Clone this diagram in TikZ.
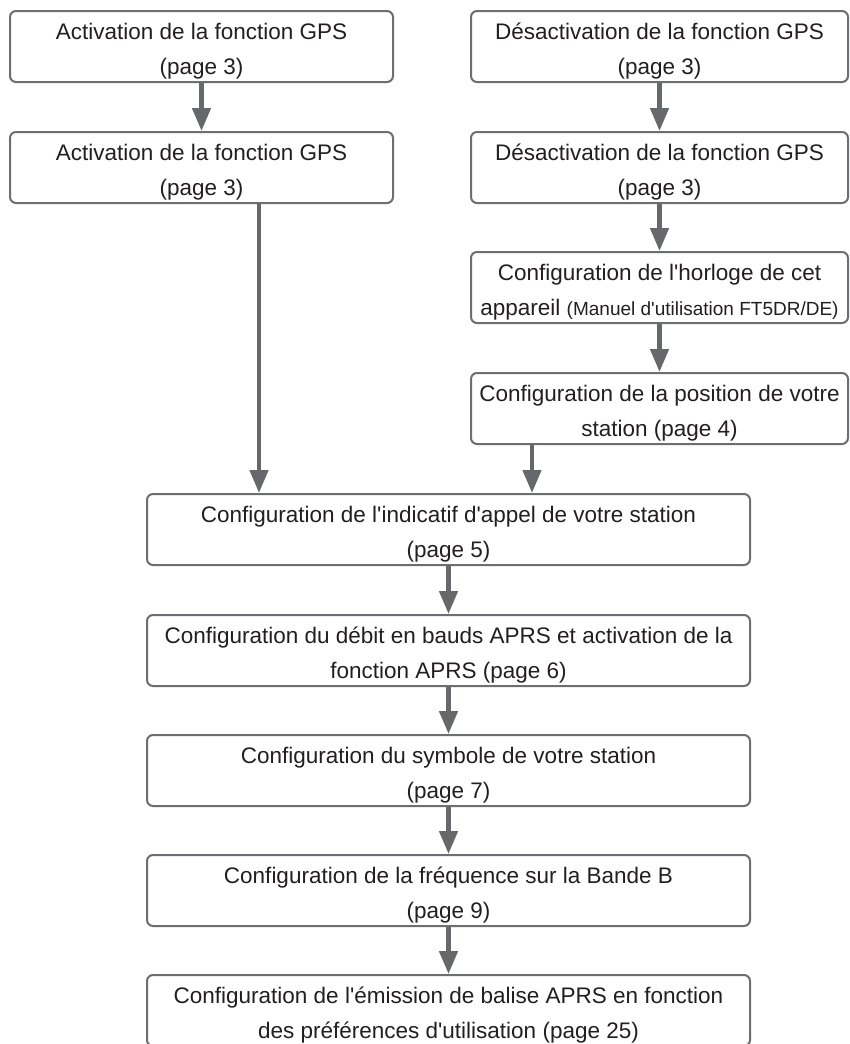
\documentclass[tikz,border=0pt]{standalone}
\usepackage{fontspec}
\setmainfont{Liberation Sans}
\usepackage{tikz}
\usetikzlibrary{positioning,arrows.meta}

\definecolor{framegray}{HTML}{6D6E71}
\definecolor{arrowgray}{HTML}{67686C}
\definecolor{textdark}{HTML}{231F20}
\newcommand\aps{\textquotesingle}

\tikzset{
  stepbox/.style={draw=framegray, line width=2pt, rounded corners=6pt,
    fill=white, text=textdark, align=center, inner sep=0pt,
    minimum height=71pt, font=\fontsize{22.5}{35}\selectfont,
    text height=59.7pt, text depth=4.7pt},
  topbox/.style={stepbox, minimum width=383pt},
  sidebox/.style={stepbox, minimum width=377pt},
  widebox/.style={stepbox, minimum width=603pt},
  flow/.style={draw=arrowgray, line width=4.5pt,
    -{Triangle[length=23pt,width=18pt]}}
}

\begin{document}
\begin{tikzpicture}[x=1pt,y=-1pt]
  \useasboundingbox (0,0) rectangle (849,1044);
  \clip (0,0) rectangle (849,1044);

  % left column
  \node[topbox]  (act1) at (201.5,46.5)        {Activation de la fonction GPS\\(page 3)};
  \node[topbox]  (act2) [below=48pt of act1]   {Activation de la fonction GPS\\(page 3)};

  % right column
  \node[sidebox] (des1) at (659.5,46.5)        {D\'esactivation de la fonction GPS\\(page 3)};
  \node[sidebox] (des2) [below=48pt of des1]   {D\'esactivation de la fonction GPS\\(page 3)};
  \node[sidebox] (horl) [below=47pt of des2]   {Configuration de l\aps horloge de cet\\appareil {\fontsize{19}{35}\selectfont(Manuel d\aps utilisation FT5DR/DE)}};
  \node[sidebox] (posn) [below=48pt of horl]   {Configuration de la position de votre\\station (page 4)};

  % common chain
  \node[widebox] (ind)  at (448.5,529.5)       {Configuration de l\aps indicatif d\aps appel de votre station\\(page 5)};
  \node[widebox] (aprs) [below=48pt of ind]    {Configuration du d\'ebit en bauds APRS et activation de la\\fonction APRS (page 6)};
  \node[widebox] (symb) [below=47pt of aprs]   {Configuration du symbole de votre station\\(page 7)};
  \node[widebox] (freq) [below=47pt of symb]   {Configuration de la fr\'equence sur la Bande B\\(page 9)};
  \node[widebox] (emis) [below=47pt of freq]   {Configuration de l\aps\'emission de balise APRS en fonction\\des pr\'ef\'erences d\aps utilisation (page 25)};

  \coordinate (leftdrop)  at ([xshift=57.5pt]act2.south);
  \coordinate (rightdrop) at ([xshift=-127.5pt]posn.south);

  \draw[flow] (act1) -- (act2);
  \draw[flow] (des1) -- (des2);
  \draw[flow] (des2) -- (horl);
  \draw[flow] (horl) -- (posn);
  \draw[flow] (leftdrop) -- (leftdrop |- ind.north);
  \draw[flow] (rightdrop) -- (rightdrop |- ind.north);
  \draw[flow] (ind) -- (aprs);
  \draw[flow] (aprs) -- (symb);
  \draw[flow] (symb) -- (freq);
  \draw[flow] (freq) -- (emis);
\end{tikzpicture}
\end{document}
